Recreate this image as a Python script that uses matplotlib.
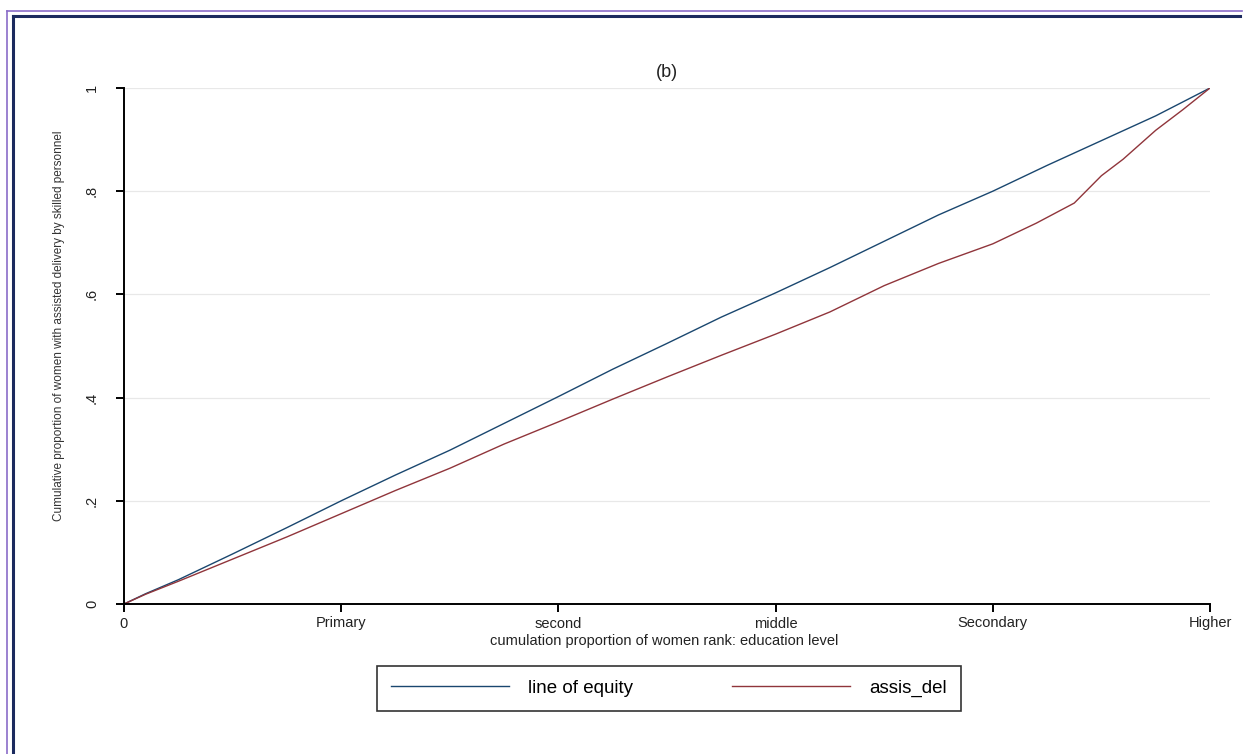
import matplotlib
matplotlib.use("Agg")
import matplotlib.pyplot as plt
from matplotlib.lines import Line2D

plt.rcParams['font.family'] = ['Liberation Sans', 'DejaVu Sans']

# ---- data ----
equity_x = [0, 0.02, 0.05, 0.1, 0.15, 0.2, 0.25, 0.3, 0.35, 0.4, 0.45, 0.5,
            0.55, 0.6, 0.65, 0.7, 0.75, 0.8, 0.85, 0.9, 0.95, 1.0]
equity_y = [0, 0.02, 0.047, 0.097, 0.148, 0.2, 0.25, 0.298, 0.35, 0.402, 0.455, 0.505,
            0.556, 0.603, 0.652, 0.703, 0.754, 0.800, 0.850, 0.898, 0.946, 1.0]

assis_x = [0, 0.02, 0.05, 0.1, 0.15, 0.2, 0.25, 0.3, 0.35, 0.4, 0.45, 0.5, 0.55,
           0.6, 0.65, 0.7, 0.75, 0.8, 0.84, 0.875, 0.9, 0.92, 0.95, 0.975, 1.0]
assis_y = [0, 0.019, 0.044, 0.087, 0.13, 0.175, 0.22, 0.263, 0.31, 0.353, 0.397, 0.44, 0.482,
           0.523, 0.566, 0.617, 0.66, 0.698, 0.738, 0.777, 0.83, 0.862, 0.918, 0.958, 1.0]

x_ticks = [0, 0.2, 0.4, 0.6, 0.8, 1.0]
x_tick_labels = ["0", "Primary", "second", "middle", "Secondary", "Higher"]
y_ticks = [0, 0.2, 0.4, 0.6, 0.8, 1.0]
y_tick_labels = ["0", ".2", ".4", ".6", ".8", "1"]

series_names = ["line of equity", "assis_del"]
series_colors = ["#1a476f", "#90353b"]

# ---- figure ----
W, H = 1246, 754
fig = plt.figure(figsize=(W / 100, H / 100), dpi=100)
fig.patch.set_facecolor("white")

ax = fig.add_axes([124 / W, 1 - 604 / H, (1210 - 124) / W, (604 - 88) / H])
ax.set_xlim(0, 1)
ax.set_ylim(0, 1)

for yv in y_ticks[1:]:
    ax.axhline(yv, color="#e8e8e8", lw=0.9, zorder=0)

ax.plot(equity_x, equity_y, color=series_colors[0], lw=1.0, label=series_names[0])
ax.plot(assis_x, assis_y, color=series_colors[1], lw=1.0, label=series_names[1])

for s in ["top", "right"]:
    ax.spines[s].set_visible(False)
for s in ["left", "bottom"]:
    ax.spines[s].set_linewidth(1.4)
    ax.spines[s].set_color("black")

ax.set_xticks(x_ticks)
ax.set_xticklabels(x_tick_labels, fontsize=10.5, color="#222222")
ax.set_yticks(y_ticks)
ax.set_yticklabels(y_tick_labels, fontsize=10.5, rotation=90, va="center", color="#222222")
ax.tick_params(axis="x", length=6, width=1.4, pad=3, direction="out")
ax.tick_params(axis="y", length=6, width=1.4, pad=12, direction="out")

ax.set_xlabel("cumulation proportion of women rank: education level", fontsize=10.5, color="#222222")
ax.xaxis.set_label_coords(0.497, -0.058)
ax.set_ylabel("Cumulative proportion of women with assisted delivery by skilled personnel",
              fontsize=8.5, color="#333333")
ax.yaxis.set_label_coords(-0.054, 0.54)

ax.set_title("(b)", fontsize=13, color="#222222", pad=8)

leg = fig.legend(loc="center", bbox_to_anchor=((373 + 965) / 2 / W, 1 - 688.5 / H),
                 ncol=2, fontsize=13.5, frameon=True, fancybox=False,
                 handlelength=6.3, handletextpad=1.0, columnspacing=5.3,
                 borderpad=0.75, edgecolor="black")
leg.get_frame().set_linewidth(1.2)

# outer frame lines
fig.add_artist(Line2D([7 / W, 7 / W], [0, 1 - 11 / H], color="#8a6cc8", lw=1.2))
fig.add_artist(Line2D([7 / W, 1242 / W], [1 - 11 / H, 1 - 11 / H], color="#8a6cc8", lw=1.2))
fig.add_artist(Line2D([13 / W, 13 / W], [0, 1 - 16 / H], color="#1b2a5e", lw=2.2))
fig.add_artist(Line2D([13 / W, 1240 / W], [1 - 16 / H, 1 - 16 / H], color="#1b2a5e", lw=2.2))

fig.savefig("out.png", dpi=100)
